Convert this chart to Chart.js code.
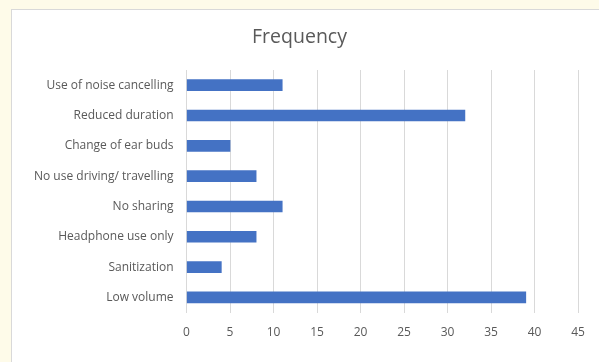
<!DOCTYPE html>
<html>
<head>
<meta charset="utf-8">
<script src="https://cdn.jsdelivr.net/npm/chart.js@4"></script>
<style>
  html, body { margin: 0; padding: 0; }
  body { width: 599px; height: 362px; background: #fefbe9; position: relative; overflow: hidden; }
  #frame { position: absolute; left: 11px; top: 9px; right: 0; bottom: 0; background: #fff; border-top: 1px solid #d9d9d9; border-left: 1px solid #d9d9d9; }
  #wrap { position: absolute; left: 0; top: 0; width: 599px; height: 362px; }
</style>
</head>
<body>
<div id="frame"></div>
<div id="wrap"><canvas id="chart"></canvas></div>
<script>
// survey answers, listed top to bottom as they appear
const categories = [
  'Use of noise cancelling',
  'Reduced duration',
  'Change of ear buds',
  'No use driving/ travelling',
  'No sharing',
  'Headphone use only',
  'Sanitization',
  'Low volume'
];
const frequency = [11, 32, 5, 8, 11, 8, 4, 39];
const xTicks = [0, 5, 10, 15, 20, 25, 30, 35, 40, 45];

const grey = '#595959';
const font = "'Open Sans', 'Noto Sans', sans-serif";

new Chart(document.getElementById('chart'), {
  type: 'bar',
  data: {
    labels: categories,
    datasets: [{
      label: 'Frequency',
      data: frequency,
      backgroundColor: '#4472c4',
      barThickness: 11
    }]
  },
  options: {
    indexAxis: 'y',
    responsive: true,
    maintainAspectRatio: false,
    animation: false,
    layout: { padding: { top: 26, right: 21, bottom: 9, left: 21 } },
    plugins: {
      legend: { display: false },
      tooltip: { enabled: false },
      title: {
        display: true,
        text: 'Frequency',
        color: grey,
        font: { family: font, size: 19.5, weight: 'normal' },
        padding: { top: 0, bottom: 20.6 }
      }
    },
    scales: {
      x: {
        min: 0,
        max: xTicks[xTicks.length - 1],
        afterBuildTicks: axis => { axis.ticks = xTicks.map(v => ({ value: v })); },
        grid: { color: '#d9d9d9', drawTicks: false },
        border: { display: false },
        ticks: { color: grey, padding: 13, font: { family: font, size: 12 } }
      },
      y: {
        grid: { display: false, drawTicks: false },
        border: { display: false },
        ticks: { color: grey, padding: 13, font: { family: font, size: 12 } }
      }
    }
  }
});
</script>
</body>
</html>
